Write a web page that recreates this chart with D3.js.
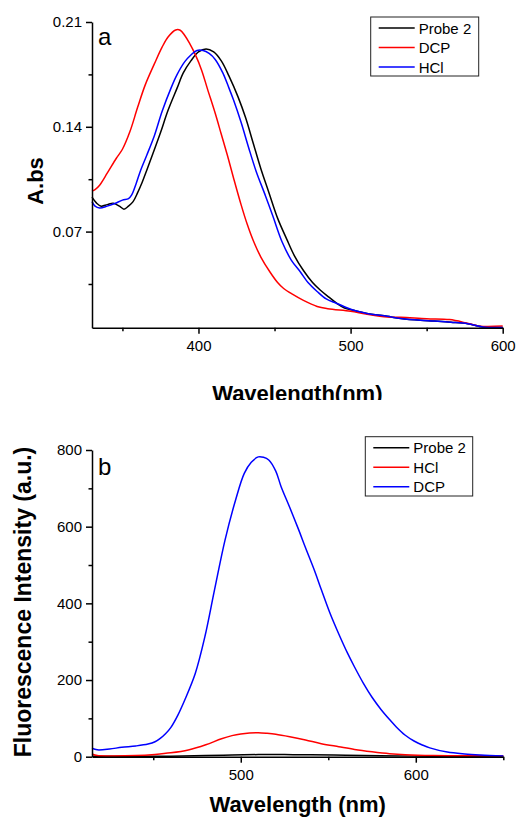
<!DOCTYPE html>
<html>
<head>
<meta charset="utf-8">
<script src="https://cdn.jsdelivr.net/npm/d3@7"></script>
<style>
  body { margin: 0; background: #fff; }
  svg { display: block; font-family: "Liberation Sans", Arial, sans-serif; }
</style>
</head>
<body>
<svg id="chart" width="517" height="819"></svg>
<script>
// panel a : absorbance, [wavelength nm, A]
var absProbe = [[330,0.093],[333,0.089],[336,0.087],[340,0.088],[344,0.089],[348,0.087],[351,0.085],[354,0.087],
  [357,0.090],[360,0.096],[363,0.103],[366,0.111],[370,0.122],[375,0.136],[380,0.151],[386,0.166],[390,0.176],
  [395,0.184],[400,0.190],[405,0.192],[410,0.190],[415,0.184],[420,0.174],[426,0.160],[431,0.146],[436,0.129],
  [441,0.112],[446,0.097],[452,0.079],[458,0.065],[463,0.054],[469,0.044],[475,0.036],[480,0.031],[486,0.026],
  [491,0.022],[496,0.019],[502,0.0174],[510,0.0155],[524,0.0134],[533,0.0120],[546,0.0108],[555,0.0103],
  [566,0.0095],[577,0.0085],[587,0.0063],[600,0.006]];
var absDCP = [[330,0.097],[332,0.098],[335,0.101],[340,0.109],[346,0.119],[350,0.125],[355,0.137],[360,0.153],
  [365,0.168],[371,0.182],[376,0.193],[380,0.200],[385,0.2047],[388,0.2045],[391,0.201],[394,0.196],[398,0.188],
  [402,0.178],[406,0.165],[411,0.149],[415,0.135],[419,0.121],[423,0.106],[428,0.088],[432,0.075],[436,0.064],
  [441,0.053],[447,0.043],[452,0.036],[456,0.032],[462,0.028],[469,0.024],[478,0.020],[485,0.0185],[500,0.0168],
  [510,0.015],[524,0.013],[533,0.0128],[550,0.0118],[565,0.0112],[576,0.009],[585,0.0068],[600,0.0069]];
var absHCl = [[330,0.090],[332,0.087],[335,0.0858],[340,0.087],[345,0.0888],[350,0.091],[354,0.092],[356,0.0943],
  [359,0.102],[362,0.111],[366,0.121],[371,0.134],[376,0.150],[382,0.166],[386,0.175],[391,0.1835],[395,0.188],
  [399,0.191],[403,0.191],[407,0.189],[411,0.185],[416,0.176],[420,0.166],[423,0.158],[428,0.143],[433,0.126],
  [438,0.110],[444,0.094],[449,0.080],[455,0.063],[461,0.051],[467,0.043],[472,0.036],[478,0.030],[484,0.025],
  [491,0.022],[502,0.0174],[510,0.0155],[524,0.0134],[533,0.0120],[546,0.0108],[555,0.0103],[566,0.0095],
  [577,0.0085],[587,0.0063],[600,0.006]];

// panel b : fluorescence, [wavelength nm, intensity]
var flProbe = [[415,1],[440,1],[460,1.5],[480,3],[495,4.5],[510,5.5],[525,5.5],[540,5],[560,4],[580,2.5],
  [600,1.5],[620,1],[650,1]];
var flHCl = [[415,7],[418,3],[425,2],[440,3],[451,6],[460,10],[470,17.5],[480,31],[489,47],[495,55],[500,59.5],
  [505,62],[510,62.6],[515,61],[520,58.5],[528,52],[537,43.5],[546,34],[556,26],[565,19],[575,13],[585,8],
  [594,5.2],[610,3],[623,2.6],[650,2]];
var flDCP = [[415,22],[418,18],[425,20],[432,24.5],[440,28],[447,33],[451,39],[454,48],[457,60],[460,76],
  [464,108],[468,148],[474,217],[479.5,313],[485,435],[491,565],[497,669],[502,739],[506,768],[510,782],
  [513,781],[516,774],[520,745],[523,705],[528,650],[533,593],[537,545],[542,487],[546,436],[551,374],[556,320],
  [561,270],[565,234],[570,192],[575,155],[580,124],[585,97],[589,77],[594,56],[599,41],[604,30],[608,23],
  [618,12],[628,7],[637,4.4],[650,2]];

var absXTicks = [400, 500, 600], absXMinor = [350, 450, 550];
var absYTicks = [0.07, 0.14, 0.21], absYMinor = [0.035, 0.105, 0.175];
var flXTicks = [500, 600], flXMinor = [450, 550, 650];
var flYTicks = [0, 200, 400, 600, 800], flYMinor = [100, 300, 500, 700];

var svg = d3.select("#chart");

svg.append("defs").append("clipPath").attr("id", "clipA")
  .append("rect").attr("x", 0).attr("y", 0).attr("width", 517).attr("height", 400);

function drawPanel(p) {
  var g = svg.append("g");
  if (p.clip) g.attr("clip-path", "url(#" + p.clip + ")");

  var x = d3.scaleLinear().domain(p.xDomain).range([p.left, p.right]);
  var y = d3.scaleLinear().domain(p.yDomain).range([p.bottom, p.top]);

  var line = d3.line()
    .x(function(d) { return x(d[0]); })
    .y(function(d) { return y(d[1]); })
    .curve(d3.curveCatmullRom.alpha(0.5));

  // curves
  p.series.forEach(function(s) {
    g.append("path")
      .datum(s.data)
      .attr("fill", "none")
      .attr("stroke", s.color)
      .attr("stroke-width", 1.5)
      .attr("d", line);
  });

  // minor ticks
  g.append("g").attr("transform", "translate(0," + p.bottom + ")")
    .call(d3.axisBottom(x).tickValues(p.xMinor).tickSize(3.5).tickSizeOuter(0).tickFormat(""))
    .call(function(a) { a.select(".domain").remove(); });
  g.append("g").attr("transform", "translate(" + p.left + ",0)")
    .call(d3.axisLeft(y).tickValues(p.yMinor).tickSize(3.5).tickSizeOuter(0).tickFormat(""))
    .call(function(a) { a.select(".domain").remove(); });

  // major axes
  var xa = g.append("g").attr("transform", "translate(0," + p.bottom + ")")
    .call(d3.axisBottom(x).tickValues(p.xTicks).tickSize(6).tickPadding(7).tickSizeOuter(0));
  var ya = g.append("g").attr("transform", "translate(" + p.left + ",0)")
    .call(d3.axisLeft(y).tickValues(p.yTicks).tickSize(6).tickPadding(4).tickSizeOuter(0).tickFormat(p.yFormat));

  g.selectAll(".tick line, .domain").attr("stroke", "#000").attr("stroke-width", 1.5);
  [xa, ya].forEach(function(a) {
    a.selectAll("text").attr("font-size", 15).attr("fill", "#000")
      .style("font-family", "'Liberation Sans', Arial, sans-serif");
  });

  // axis titles
  g.append("text")
    .attr("x", (p.left + p.right) / 2)
    .attr("y", p.xTitleY)
    .attr("text-anchor", "middle")
    .attr("font-size", 22).attr("font-weight", "bold")
    .text(p.xTitle);
  g.append("text")
    .attr("transform", "translate(" + p.yTitleX + "," + p.yTitleY + ") rotate(-90)")
    .attr("text-anchor", "middle")
    .attr("font-size", p.yTitleSize).attr("font-weight", "bold")
    .text(p.yTitle);

  // panel letter
  g.append("text")
    .attr("x", p.left + 6)
    .attr("y", p.letterY)
    .attr("font-size", 24)
    .text(p.letter);

  // legend
  var lg = g.append("g");
  lg.append("rect")
    .attr("x", p.legend[0]).attr("y", p.legend[1])
    .attr("width", p.legend[2]).attr("height", p.legend[3])
    .attr("fill", "#fff").attr("stroke", "#222").attr("stroke-width", 1);
  p.series.forEach(function(s, i) {
    var ry = p.legend[1] + 11 + i * 19.5;
    lg.append("line")
      .attr("x1", p.legend[0] + 8).attr("x2", p.legend[0] + 44)
      .attr("y1", ry).attr("y2", ry)
      .attr("stroke", s.color).attr("stroke-width", 1.5);
    lg.append("text")
      .attr("x", p.legend[0] + 48).attr("y", ry + 5.5)
      .attr("font-size", 15)
      .text(s.name);
  });
}

drawPanel({
  clip: "clipA",
  xDomain: [330, 600], yDomain: [0.0058, 0.21],
  left: 92, right: 502.7, top: 22, bottom: 327.7,
  xTicks: absXTicks, xMinor: absXMinor, yTicks: absYTicks, yMinor: absYMinor,
  yFormat: d3.format(".2f"),
  xTitle: "Wavelength(nm)", xTitleY: 401,
  yTitle: "A.bs", yTitleX: 43, yTitleY: 181, yTitleSize: 22,
  letter: "a", letterY: 45,
  legend: [370.7, 17, 108, 59],
  series: [
    { name: "Probe 2", color: "#000", data: absProbe },
    { name: "DCP", color: "#ff0000", data: absDCP },
    { name: "HCl", color: "#0000ff", data: absHCl }
  ]
});

drawPanel({
  xDomain: [415, 650], yDomain: [0, 800],
  left: 92, right: 503.3, top: 450, bottom: 756.7,
  xTicks: flXTicks, xMinor: flXMinor, yTicks: flYTicks, yMinor: flYMinor,
  yFormat: d3.format("d"),
  xTitle: "Wavelength (nm)", xTitleY: 812,
  yTitle: "Fluorescence Intensity (a.u.)", yTitleX: 31, yTitleY: 602, yTitleSize: 23,
  letter: "b", letterY: 475,
  legend: [365.3, 436.7, 107.4, 59.3],
  series: [
    { name: "Probe 2", color: "#000", data: flProbe },
    { name: "HCl", color: "#ff0000", data: flHCl },
    { name: "DCP", color: "#0000ff", data: flDCP }
  ]
});
</script>
</body>
</html>
